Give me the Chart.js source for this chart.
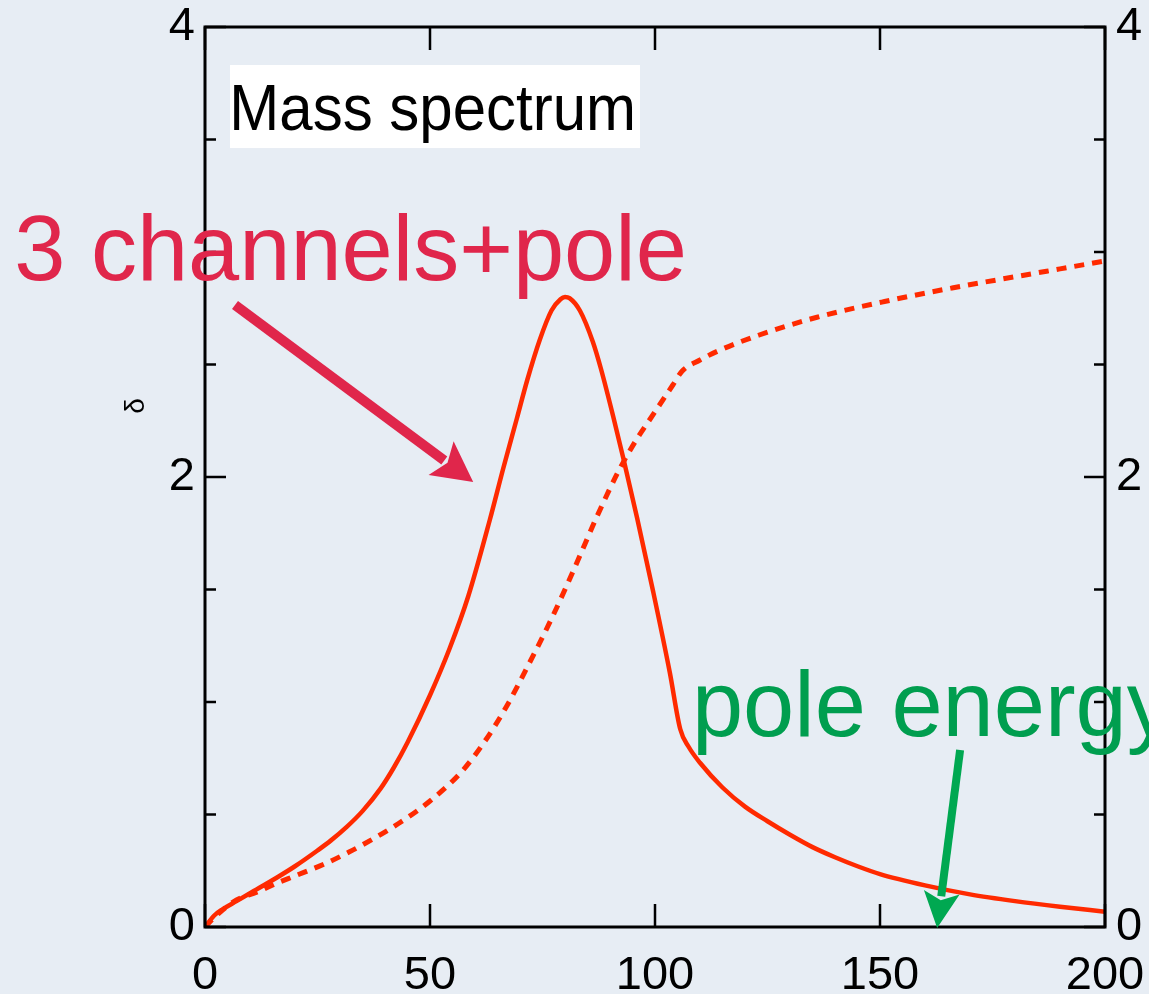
<!DOCTYPE html>
<html>
<head>
<meta charset="utf-8">
<script src="https://cdn.jsdelivr.net/npm/chart.js@4.4.1/dist/chart.umd.min.js"></script>
<style>
  html, body { margin: 0; padding: 0; background: #e7edf4; overflow: hidden; }
  #wrap { width: 1149px; height: 994px; position: relative; }
</style>
</head>
<body>
<div id="wrap"><canvas id="chart"></canvas></div>
<script>
// Données
const solidX = [0, 2, 4, 7, 10, 16, 20, 25, 28, 31.5, 35, 39, 42, 45, 50, 54.4, 58.5, 63.3, 66.3, 69.3, 71.6, 74.4, 77, 79, 80, 81, 83.3, 86.2, 88, 90.7, 93, 96, 99.6, 103.3, 105.6, 107.5, 110, 115, 120, 125, 130, 135, 140, 145, 150, 160, 170, 180, 190, 200];
const solidY = [0, 0.05, 0.08, 0.115, 0.15, 0.22, 0.27, 0.34, 0.385, 0.445, 0.515, 0.615, 0.71, 0.82, 1.03, 1.24, 1.47, 1.81, 2.04, 2.26, 2.43, 2.61, 2.74, 2.79, 2.80, 2.795, 2.74, 2.60, 2.48, 2.27, 2.08, 1.82, 1.49, 1.13, 0.88, 0.80, 0.73, 0.62, 0.535, 0.47, 0.41, 0.355, 0.31, 0.27, 0.235, 0.185, 0.145, 0.115, 0.09, 0.068];

const dashX = [0, 3, 7, 11.5, 16, 20, 27, 32, 35, 43, 50, 57, 62, 67, 72, 77, 82, 87, 92, 96, 99, 101, 104, 106, 110, 114, 123, 136, 151, 166, 180, 190, 200];
const dashY = [0, 0.06, 0.12, 0.155, 0.195, 0.227, 0.284, 0.333, 0.365, 0.46, 0.56, 0.69, 0.82, 0.98, 1.17, 1.37, 1.59, 1.82, 2.03, 2.17, 2.26, 2.32, 2.41, 2.47, 2.52, 2.56, 2.63, 2.71, 2.78, 2.84, 2.89, 2.925, 2.96];

const xTicks = [0, 50, 100, 150, 200];
const yMajor = [0, 2, 4];
const yMinor = [0.5, 1, 1.5, 2.5, 3, 3.5];

const RED = "#ff2a00";
const CRIMSON = "#e0264b";
const GREEN = "#009e4f";
const FONT = "'Liberation Sans', Arial, Helvetica, sans-serif";

Chart.defaults.font.family = FONT;

function toPoints(xs, ys) {
  return xs.map((x, i) => ({ x: x, y: ys[i] }));
}

function arrow(ctx, x1, y1, x2, y2, color, width, headLen, headHalf) {
  const dx = x2 - x1, dy = y2 - y1;
  const len = Math.sqrt(dx * dx + dy * dy);
  const ux = dx / len, uy = dy / len;
  const bx = x2 - ux * headLen, by = y2 - uy * headLen;
  ctx.save();
  ctx.strokeStyle = color;
  ctx.fillStyle = color;
  ctx.lineWidth = width;
  ctx.beginPath();
  ctx.moveTo(x1, y1);
  ctx.lineTo(bx + ux * 4, by + uy * 4);
  ctx.stroke();
  ctx.beginPath();
  ctx.moveTo(x2, y2);
  ctx.lineTo(bx - uy * headHalf, by + ux * headHalf);
  ctx.lineTo(bx + ux * 8, by + uy * 8);
  ctx.lineTo(bx + uy * headHalf, by - ux * headHalf);
  ctx.closePath();
  ctx.fill();
  ctx.restore();
}

const decor = {
  id: "decor",
  beforeDraw(chart) {
    const ctx = chart.ctx;
    ctx.save();
    ctx.fillStyle = "#e7edf4";
    ctx.fillRect(0, 0, chart.width, chart.height);
    ctx.restore();
  },
  afterDraw(chart) {
    const ctx = chart.ctx;
    const a = chart.chartArea;
    const sx = chart.scales.x, sy = chart.scales.y;
    const px = (v) => sx.getPixelForValue(v);
    const py = (v) => sy.getPixelForValue(v);

    ctx.save();
    // cadre
    ctx.strokeStyle = "#000";
    ctx.lineWidth = 3;
    ctx.strokeRect(a.left, a.top, a.right - a.left, a.bottom - a.top);

    // graduations vers l'intérieur
    ctx.lineWidth = 2.5;
    ctx.beginPath();
    xTicks.forEach((v) => {
      ctx.moveTo(px(v), a.bottom);
      ctx.lineTo(px(v), a.bottom - 23);
      ctx.moveTo(px(v), a.top);
      ctx.lineTo(px(v), a.top + 23);
    });
    yMajor.forEach((v) => {
      ctx.moveTo(a.left, py(v));
      ctx.lineTo(a.left + 21, py(v));
      ctx.moveTo(a.right, py(v));
      ctx.lineTo(a.right - 21, py(v));
    });
    yMinor.forEach((v) => {
      ctx.moveTo(a.left, py(v));
      ctx.lineTo(a.left + 11, py(v));
      ctx.moveTo(a.right, py(v));
      ctx.lineTo(a.right - 11, py(v));
    });
    ctx.stroke();

    // titre de l'axe y
    ctx.save();
    ctx.translate(px(-15.3), py(2.316));
    ctx.rotate(-Math.PI / 2);
    ctx.fillStyle = "#000";
    ctx.font = "28px " + FONT;
    ctx.textAlign = "center";
    ctx.textBaseline = "middle";
    ctx.fillText("δ", 0, 0);
    ctx.restore();

    // encadré "Mass spectrum"
    ctx.fillStyle = "#ffffff";
    ctx.fillRect(px(5.56), py(3.831), px(96.67) - px(5.56), py(3.462) - py(3.831));
    ctx.fillStyle = "#000";
    ctx.font = "60px " + FONT;
    ctx.textAlign = "left";
    ctx.textBaseline = "alphabetic";
    ctx.save();
    ctx.translate(px(5.4), py(3.542));
    ctx.scale(1, 1.08);
    ctx.fillText("Mass spectrum", 0, 0);
    ctx.restore();

    // flèches
    arrow(ctx, px(6.67), py(2.764), px(59.6), py(1.978), CRIMSON, 10, 40, 21);
    arrow(ctx, px(167.8), py(0.787), px(162.7), py(-0.004), "#00a851", 8, 36, 18);

    // annotations
    ctx.font = "92px " + FONT;
    ctx.fillStyle = CRIMSON;
    ctx.fillText("3 channels+pole", px(-42.4), py(2.876));
    ctx.fillStyle = GREEN;
    ctx.fillText("pole energy", px(108.2), py(0.849));
    ctx.restore();
  },
};

const hiddenTicks = (len) => ({
  display: true,
  drawOnChartArea: false,
  drawTicks: true,
  tickLength: len,
  tickColor: "rgba(0,0,0,0)",
});

new Chart(document.getElementById("chart"), {
  type: "scatter",
  data: {
    datasets: [
      {
        label: "3 channels+pole",
        data: toPoints(solidX, solidY),
        showLine: true,
        borderColor: RED,
        borderWidth: 4.5,
        pointRadius: 0,
        cubicInterpolationMode: "monotone",
      },
      {
        label: "dashed",
        data: toPoints(dashX, dashY),
        showLine: true,
        borderColor: RED,
        borderWidth: 5,
        borderDash: [10, 8],
        pointRadius: 0,
        cubicInterpolationMode: "monotone",
      },
    ],
  },
  options: {
    responsive: true,
    maintainAspectRatio: false,
    animation: false,
    layout: { padding: { top: 27, left: 0, right: 0, bottom: 0 } },
    plugins: { legend: { display: false }, tooltip: { enabled: false } },
    scales: {
      x: {
        type: "linear",
        min: 0,
        max: 200,
        ticks: { stepSize: 50, color: "#000", font: { size: 47, lineHeight: 1 }, padding: 4, maxRotation: 0 },
        grid: hiddenTicks(22),
        border: { display: false },
        afterFit: (s) => { s.height = 67; },
      },
      y: {
        min: 0,
        max: 4,
        ticks: { stepSize: 2, color: "#000", font: { size: 47, lineHeight: 1 }, padding: 2 },
        grid: hiddenTicks(8),
        border: { display: false },
        afterFit: (s) => { s.width = 205; },
      },
      y2: {
        position: "right",
        min: 0,
        max: 4,
        ticks: { stepSize: 2, color: "#000", font: { size: 47, lineHeight: 1 }, padding: 2 },
        grid: hiddenTicks(9),
        border: { display: false },
        afterFit: (s) => { s.width = 44; },
      },
    },
  },
  plugins: [decor],
});
</script>
</body>
</html>
